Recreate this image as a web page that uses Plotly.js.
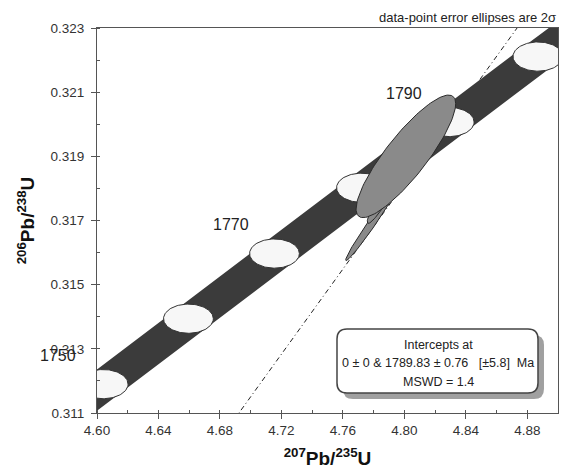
<!DOCTYPE html>
<html>
<head>
<meta charset="utf-8">
<script src="https://cdn.plot.ly/plotly-3.0.1.min.js"></script>
<style>html,body{margin:0;padding:0;background:#fff}#chart{width:565px;height:475px}</style>
</head>
<body>
<div id="chart"></div>
<script>
// Concordia curve points (age in Ma, 207Pb/235U, 206Pb/238U)
const concAge = [1740, 1750, 1760, 1770, 1780, 1790, 1800, 1810];
const concX = [4.5491, 4.6040, 4.6595, 4.7155, 4.7721, 4.8292, 4.8869, 4.9452];
const concY = [0.30987, 0.31190, 0.31394, 0.31597, 0.31802, 0.32007, 0.32211, 0.32417];

// Age marker ellipses drawn on the concordia
const markerAge = [1750, 1760, 1770, 1780, 1790, 1800];
const markerX = [4.6040, 4.6595, 4.7155, 4.7721, 4.8292, 4.8869];
const markerY = [0.31190, 0.31394, 0.31597, 0.31802, 0.32007, 0.32211];
const markerSX = 0.0162;   // half-width, 207Pb/235U
const markerSY = 0.000455; // half-height, 206Pb/238U

// Labelled ages
const labelAge = ['1750', '1770', '1790'];

// Data-point error ellipses (2 sigma)
const ptX = [4.7783, 4.7964, 4.8010];
const ptY = [0.31688, 0.31859, 0.31900];
const ptSX = [0.01647, 0.0205, 0.0324];
const ptSY = [0.00113, 0.00168, 0.00191];
const ptRho = [0.984, 0.966, 0.860];

// Discordia line (lower intercept 0, upper intercept 1789.83 Ma)
const discX = [4.680, 4.880];
const discY = [0.31018, 0.32344];

// Axis ticks
const xTicks = [4.60, 4.64, 4.68, 4.72, 4.76, 4.80, 4.84, 4.88];
const yTicks = [0.311, 0.313, 0.315, 0.317, 0.319, 0.321, 0.323];

function ellipsePts(x0, y0, sx, sy, rho) {
  const xs = [], ys = [], n = 120, r2 = Math.sqrt(1 - rho * rho);
  for (let i = 0; i <= n; i++) {
    const t = 2 * Math.PI * i / n;
    xs.push(x0 + sx * Math.cos(t));
    ys.push(y0 + sy * (rho * Math.cos(t) + r2 * Math.sin(t)));
  }
  return {xs, ys};
}

const traces = [];
traces.push({x: discX, y: discY, mode: 'lines', type: 'scatter', hoverinfo: 'skip',
  line: {color: '#222', width: 1, dash: '5px,3px,1px,3px'}});
traces.push({x: concX, y: concY, mode: 'lines', type: 'scatter', hoverinfo: 'skip',
  line: {color: '#3b3b3b', width: 33}});
markerAge.forEach((a, i) => {
  const e = ellipsePts(markerX[i], markerY[i], markerSX, markerSY, 0);
  traces.push({x: e.xs, y: e.ys, mode: 'lines', type: 'scatter', fill: 'toself',
    fillcolor: '#f7f7f7', line: {color: '#333', width: 1}, hoverinfo: 'skip', name: String(a)});
});
ptX.forEach((x, i) => {
  const e = ellipsePts(x, ptY[i], ptSX[i], ptSY[i], ptRho[i]);
  traces.push({x: e.xs, y: e.ys, mode: 'lines', type: 'scatter', fill: 'toself',
    fillcolor: '#8a8a8a', line: {color: '#2a2a2a', width: 1}, hoverinfo: 'skip'});
});

const F = 'Arial, Liberation Sans, sans-serif';
// rounded box in paper coords
const bx0 = 0.5206, bx1 = 0.9566, by0 = 0.0519, by1 = 0.2182, rx = 0.0217, ry = 0.026;
function rrect(x0, y0, x1, y1) {
  return `M ${x0 + rx} ${y0} L ${x1 - rx} ${y0} Q ${x1} ${y0} ${x1} ${y0 + ry} L ${x1} ${y1 - ry} Q ${x1} ${y1} ${x1 - rx} ${y1} L ${x0 + rx} ${y1} Q ${x0} ${y1} ${x0} ${y1 - ry} L ${x0} ${y0 + ry} Q ${x0} ${y0} ${x0 + rx} ${y0} Z`;
}
const sdx = 0.013, sdy = 0.0156;

const layout = {
  width: 565, height: 475,
  margin: {l: 97, r: 7, t: 28, b: 62},
  paper_bgcolor: '#fff', plot_bgcolor: '#fff',
  showlegend: false,
  font: {family: F, color: '#333'},
  xaxis: {
    range: [4.60, 4.90], tickvals: xTicks, tickformat: '.2f',
    ticks: 'outside', ticklen: 5, tickcolor: '#555', showline: true, linecolor: '#555', linewidth: 1,
    mirror: true, showgrid: false, zeroline: false,
    minor: {dtick: 0.02, tick0: 4.60, ticks: 'inside', ticklen: 3, tickcolor: '#555', showgrid: false},
    tickfont: {size: 13.5, color: '#333', family: F},
    title: {text: '<sup>207</sup>Pb/<sup>235</sup>U', font: {size: 19, family: F, color: '#111', weight: 'bold'}, standoff: 14}
  },
  yaxis: {
    range: [0.311, 0.323], tickvals: yTicks, tickformat: '.3f',
    ticks: 'outside', ticklen: 5, tickcolor: '#555', showline: true, linecolor: '#555', linewidth: 1,
    mirror: true, showgrid: false, zeroline: false, ticklabelstandoff: 4,
    minor: {dtick: 0.001, tick0: 0.311, ticks: 'inside', ticklen: 3, tickcolor: '#555', showgrid: false},
    tickfont: {size: 13.5, color: '#333', family: F},
    title: {text: '<sup>206</sup>Pb/<sup>238</sup>U', font: {size: 19, family: F, color: '#111', weight: 'bold'}, standoff: 10}
  },
  shapes: [
    {type: 'path', xref: 'paper', yref: 'paper', path: rrect(bx0 + sdx, by0 - sdy, bx1 + sdx, by1 - sdy),
     fillcolor: '#a0a0a0', line: {width: 0}, layer: 'above'},
    {type: 'path', xref: 'paper', yref: 'paper', path: rrect(bx0, by0, bx1, by1),
     fillcolor: '#ffffff', line: {color: '#444', width: 1.5}, layer: 'above'}
  ],
  annotations: [
    {x: 4.6040, y: 0.31278, xref: 'x', yref: 'y', text: labelAge[0], showarrow: false, xshift: -45,
     xanchor: 'center', yanchor: 'middle', font: {size: 16, family: F, color: '#222'}},
    {x: 4.6869, y: 0.31688, xref: 'x', yref: 'y', text: labelAge[1], showarrow: false,
     xanchor: 'center', yanchor: 'middle', font: {size: 16, family: F, color: '#222'}},
    {x: 4.7997, y: 0.32097, xref: 'x', yref: 'y', text: labelAge[2], showarrow: false,
     xanchor: 'center', yanchor: 'middle', font: {size: 16, family: F, color: '#222'}},
    {x: 1, y: 1.026, xref: 'paper', yref: 'paper', xanchor: 'right', yanchor: 'middle', showarrow: false,
     text: 'data-point error ellipses are 2σ', font: {size: 13, family: F, color: '#222'}},
    {x: 0.7397, y: 0.1766, xref: 'paper', yref: 'paper', xanchor: 'center', yanchor: 'middle', showarrow: false,
     text: 'Intercepts at', font: {size: 12.5, family: F, color: '#222'}},
    {x: 0.7397, y: 0.1299, xref: 'paper', yref: 'paper', xanchor: 'center', yanchor: 'middle', showarrow: false,
     text: '0 ± 0 & 1789.83 ± 0.76 &nbsp; [±5.8] &nbsp;Ma', font: {size: 12.5, family: F, color: '#222'}},
    {x: 0.7397, y: 0.0805, xref: 'paper', yref: 'paper', xanchor: 'center', yanchor: 'middle', showarrow: false,
     text: 'MSWD = 1.4', font: {size: 12.5, family: F, color: '#222'}}
  ]
};

Plotly.newPlot('chart', traces, layout, {staticPlot: true, displayModeBar: false});
</script>
</body>
</html>
